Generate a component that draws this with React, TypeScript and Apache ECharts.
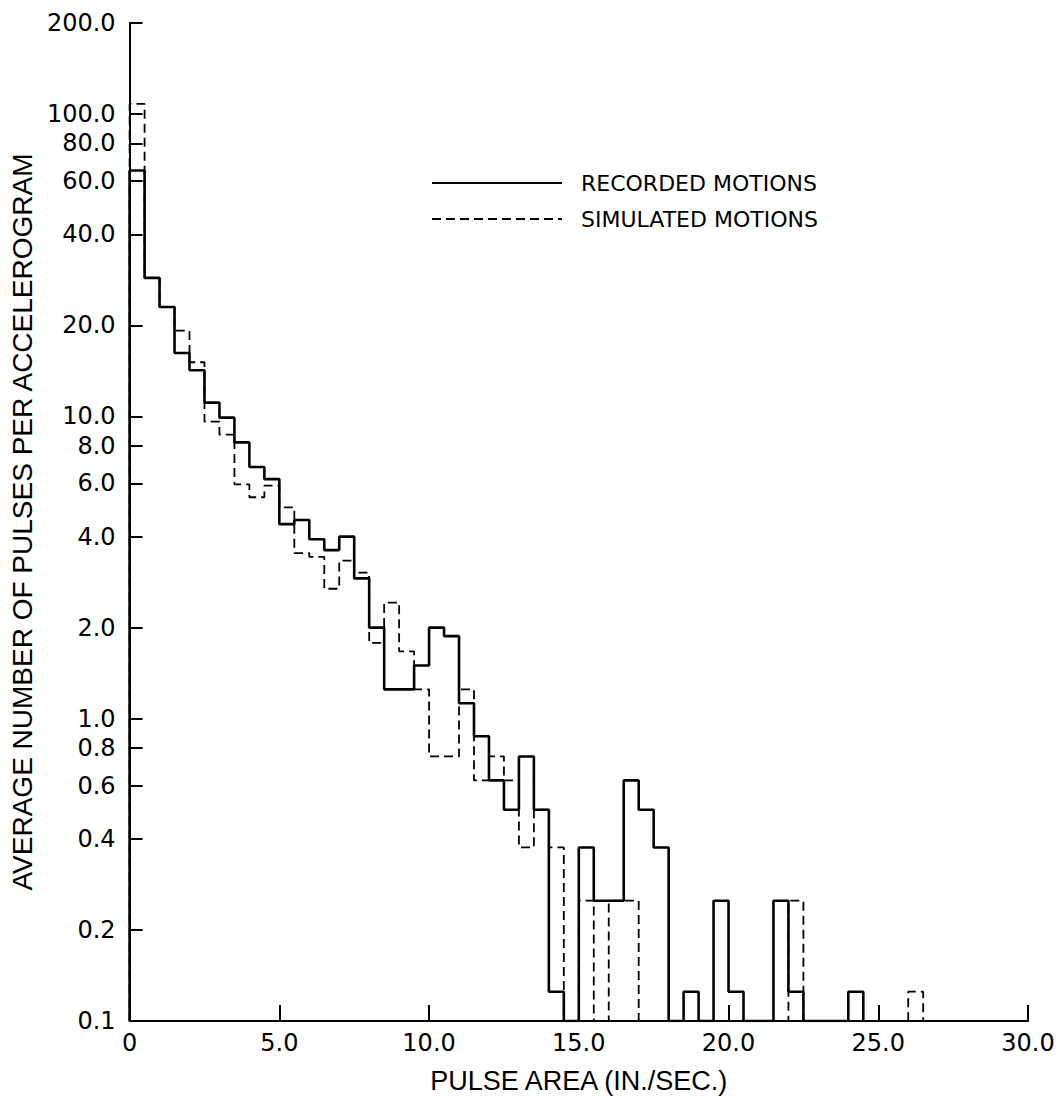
import React, { useEffect, useRef } from "react";
import * as echarts from "echarts";

// Histogram bins of width 0.5 in./sec., starting at 0
const BIN_WIDTH = 0.5;
const recordedMotions = [
  65, 28.7, 23, 16.2, 14.2, 11.1, 9.9, 8.2, 6.8, 6.2,
  4.4, 4.54, 3.92, 3.61, 4.0, 2.91, 2.0, 1.25, 1.25, 1.5,
  2.0, 1.875, 1.125, 0.875, 0.625, 0.5, 0.75, 0.5, 0.125, 0,
  0.375, 0.25, 0.25, 0.625, 0.5, 0.375, 0, 0.125, 0, 0.25,
  0.125, 0, 0, 0.25, 0.125, 0, 0, 0, 0.125,
];
const simulatedMotions = [
  108, 28.7, 23, 19.2, 15.1, 9.6, 8.7, 5.96, 5.4, 5.9,
  5.0, 3.53, 3.43, 2.69, 3.33, 3.04, 1.78, 2.42, 1.67, 1.25,
  0.75, 0.75, 1.25, 0.625, 0.75, 0.625, 0.375, 0.5, 0.375, 0,
  0.25, 0, 0.25, 0.25, 0, 0, 0, 0, 0, 0,
  0, 0, 0, 0, 0.25, 0, 0, 0, 0, 0,
  0, 0, 0.125,
];
const yTickValues = [0.1, 0.2, 0.4, 0.6, 0.8, 1, 2, 4, 6, 8, 10, 20, 40, 60, 80, 100, 200];
const Y_MIN = 0.1;
const Y_MAX = 200;
const X_MIN = 0;
const X_MAX = 30;
const X_INTERVAL = 5;

const LABEL_FONT = "'DejaVu Sans', 'Noto Sans', sans-serif";
const TITLE_FONT = "'Liberation Sans', 'Noto Sans', sans-serif";

function toSteps(values: number[]): number[][] {
  const pts: number[][] = [[0, Y_MIN]];
  values.forEach((v, i) => pts.push([i * BIN_WIDTH, Math.max(v, Y_MIN)]));
  pts.push([values.length * BIN_WIDTH, Y_MIN]);
  return pts;
}

export default function App() {
  const ref = useRef<HTMLDivElement>(null);
  useEffect(() => {
    if (!ref.current) return;
    const chart = echarts.init(ref.current, undefined, { renderer: "svg" });
    chart.setOption({
      animation: false,
      backgroundColor: "#ffffff",
      grid: { left: 124, right: 36, top: 23, bottom: 86, containLabel: false },
      legend: {
        left: 426,
        top: 166,
        orient: "vertical",
        itemWidth: 130,
        itemHeight: 14,
        itemGap: 12,
        selectedMode: false,
        itemStyle: { opacity: 0 },
        data: ["RECORDED MOTIONS", "SIMULATED MOTIONS"],
        textStyle: {
          color: "#000",
          fontSize: 22,
          lineHeight: 24,
          fontFamily: LABEL_FONT,
          padding: [0, 0, 0, 14],
        },
      },
      xAxis: {
        type: "value",
        min: X_MIN,
        max: X_MAX,
        interval: X_INTERVAL,
        name: "PULSE AREA (IN./SEC.)",
        nameLocation: "middle",
        nameGap: 46,
        nameTextStyle: { color: "#000", fontSize: 27, fontFamily: TITLE_FONT },
        axisLine: { lineStyle: { color: "#000", width: 2 } },
        axisTick: { inside: true, length: 16, lineStyle: { color: "#000", width: 2 } },
        axisLabel: {
          color: "#000",
          fontSize: 24,
          fontFamily: LABEL_FONT,
          margin: 10,
          formatter: (v: number) => (v === 0 ? "0" : v.toFixed(1)),
        },
        splitLine: { show: false },
      },
      yAxis: {
        type: "log",
        logBase: 10,
        min: Y_MIN,
        max: Y_MAX,
        name: "AVERAGE NUMBER OF PULSES PER ACCELEROGRAM",
        nameLocation: "middle",
        nameGap: 79,
        nameRotate: 90,
        nameTextStyle: { color: "#000", fontSize: 28, fontFamily: TITLE_FONT },
        axisLine: { show: true, lineStyle: { color: "#000", width: 2 } },
        axisTick: {
          inside: true,
          length: 13,
          customValues: yTickValues,
          lineStyle: { color: "#000", width: 2 },
        },
        axisLabel: {
          color: "#000",
          fontSize: 24,
          fontFamily: LABEL_FONT,
          margin: 14,
          customValues: yTickValues,
          formatter: (v: number) => Number(v).toFixed(1),
        },
        splitLine: { show: false },
        minorTick: { show: false },
      },
      series: [
        {
          name: "SIMULATED MOTIONS",
          type: "line",
          step: "end",
          symbol: "none",
          data: toSteps(simulatedMotions),
          lineStyle: { color: "#000", width: 1.8, type: [9, 5] },
          itemStyle: { color: "#000" },
          z: 2,
        },
        {
          name: "RECORDED MOTIONS",
          type: "line",
          step: "end",
          symbol: "none",
          data: toSteps(recordedMotions),
          lineStyle: { color: "#000", width: 2.6 },
          itemStyle: { color: "#000" },
          z: 3,
        },
      ],
    });
    return () => chart.dispose();
  }, []);
  return (
    <div
      ref={ref}
      style={{ position: "fixed", left: 0, top: 0, width: 1064, height: 1107, background: "#fff" }}
    />
  );
}
